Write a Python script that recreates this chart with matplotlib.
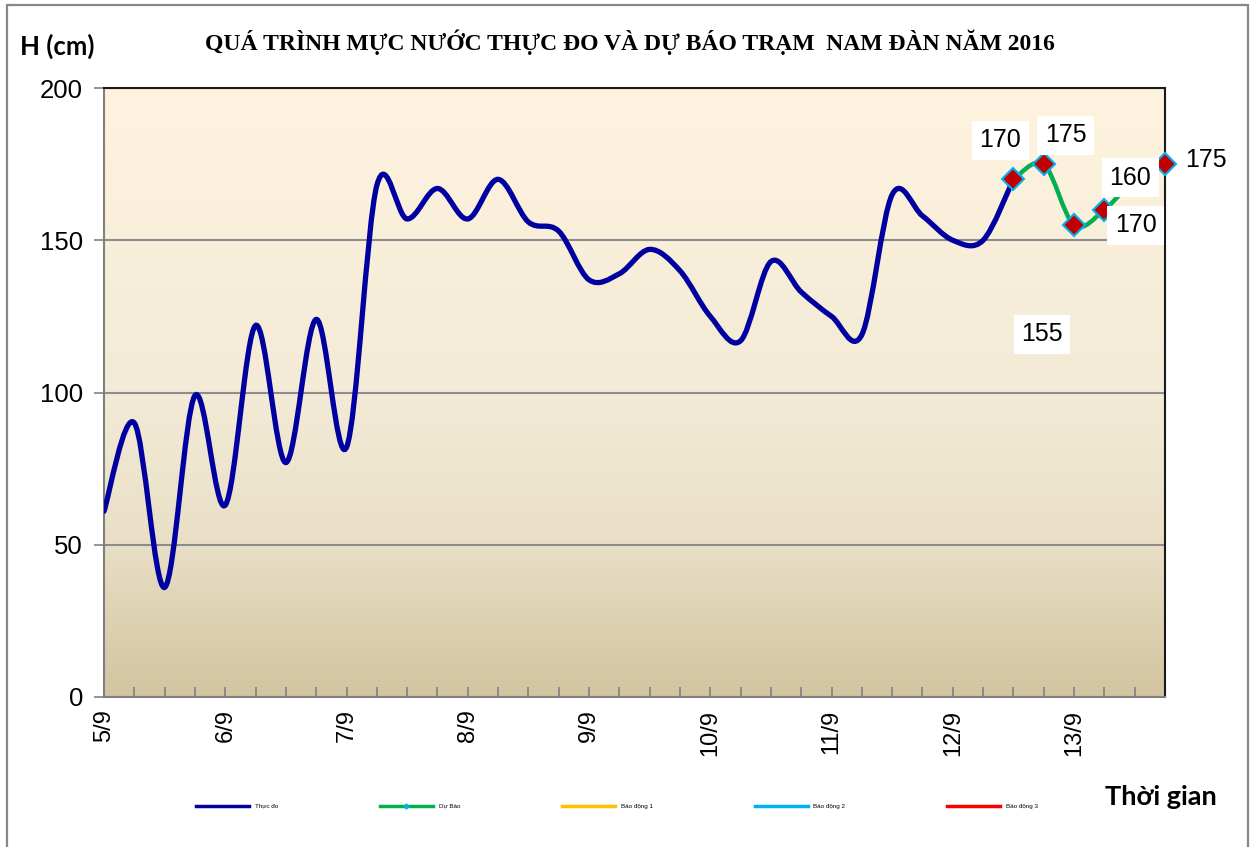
import matplotlib
matplotlib.use("Agg")
import matplotlib.pyplot as plt
import numpy as np
from matplotlib.path import Path
from matplotlib.patches import PathPatch, Rectangle
from matplotlib.lines import Line2D
from matplotlib.colors import LinearSegmentedColormap

# muc nuoc thuc do (6h mot lan, tu 5/9)
thuc_do = [61, 90, 36, 99, 63, 122, 77, 124, 82, 168, 157, 167, 157, 170,
           156, 153, 137, 139, 147, 140, 125, 117, 143, 133, 125, 119,
           165, 158, 150, 150, 170]
# du bao, bat dau tu diem cuoi cua thuc do
du_bao = [170, 175, 155, 160, 170, 175]
ngay = ['5/9', '6/9', '7/9', '8/9', '9/9', '10/9', '11/9', '12/9', '13/9']
ten_series = ['Thực đo', 'Dự Báo', 'Báo động 1', 'Báo động 2', 'Báo động 3']

n_diem = len(thuc_do) + len(du_bao) - 1
x_td = np.arange(len(thuc_do))
x_db = np.arange(len(thuc_do) - 1, n_diem)


def smooth_path(xs, ys):
    # duong cong bezier kieu excel (smoothed line)
    pts = np.column_stack([xs, ys]).astype(float)
    verts = [pts[0]]
    codes = [Path.MOVETO]
    for i in range(len(pts) - 1):
        p0 = pts[max(i - 1, 0)]
        p1 = pts[i]
        p2 = pts[i + 1]
        p3 = pts[min(i + 2, len(pts) - 1)]
        c1 = p1 + (p2 - p0) / 6.0
        c2 = p2 - (p3 - p1) / 6.0
        verts += [c1, c2, p2]
        codes += [Path.CURVE4] * 3
    return Path(verts, codes)


fig = plt.figure(figsize=(12.52, 8.47), dpi=100)
ax = fig.add_axes([104 / 1252, 1 - 697 / 847, 1061 / 1252, 609 / 847])

# nen gradient
cmap = LinearSegmentedColormap.from_list('nen', [(0.0, '#D2C4A0'), (0.25, '#E9DFC6'),
                                                 (0.5, '#F3EBD7'), (1.0, '#FEF3DF')])
grad = np.linspace(1, 0, 256).reshape(-1, 1)
ax.imshow(grad, cmap=cmap, aspect='auto', extent=[0, n_diem - 1, 0, 200], zorder=0)

ax.set_xlim(0, n_diem - 1)
ax.set_ylim(0, 200)
ax.set_yticks([0, 50, 100, 150, 200])
ax.grid(axis='y', color='#8C8C8C', lw=1.5, zorder=1)

ax.add_patch(PathPatch(smooth_path(x_td, thuc_do), fc='none', ec='#0000A0',
                       lw=3.8, zorder=3, capstyle='round'))
ax.add_patch(PathPatch(smooth_path(x_db, du_bao), fc='none', ec='#00B050',
                       lw=3.2, zorder=4, capstyle='round'))
ax.plot(x_db, du_bao, ls='none', marker='D', ms=11, mfc='#C00000', mec='#00B0F0',
        mew=1.5, zorder=5, clip_on=False)

# nhan so lieu (da keo lech nhu ban goc)
lech = [(-13, 39), (22, 29), (-32, -109), (26, 32), (1, -46), (41, 4)]
for xi, yi, (dx, dy) in zip(x_db, du_bao, lech):
    ax.annotate(str(yi), (xi, yi), xytext=(dx * 0.72, dy * 0.72), textcoords='offset points',
                ha='center', va='center', fontsize=18, family='Liberation Sans',
                bbox=dict(boxstyle='square,pad=0.3', fc='white', ec='none'),
                zorder=6, annotation_clip=False)

for s in ['left', 'bottom']:
    ax.spines[s].set_color('#808080')
    ax.spines[s].set_linewidth(1.5)
for s in ['top', 'right']:
    ax.spines[s].set_color('#1A1A1A')
    ax.spines[s].set_linewidth(1.5)

ax.set_xticks(np.arange(0, n_diem, 4))
ax.set_xticklabels(ngay, rotation=90, fontsize=17, family='Liberation Sans')
ax.set_xticks(np.arange(n_diem), minor=True)
ax.tick_params(axis='x', which='both', direction='in', length=7, color='#808080', width=1.2, pad=9)
ax.tick_params(axis='y', direction='out', length=7, color='#808080', width=1.2, pad=8)
for t in ax.get_yticklabels():
    t.set_fontsize(18.5)
    t.set_family('Liberation Sans')

fig.text(0.503, 1 - 42 / 847, 'QUÁ TRÌNH MỰC NƯỚC THỰC ĐO VÀ DỰ BÁO TRẠM  NAM ĐÀN NĂM 2016',
         ha='center', va='center', fontsize=17, fontweight='bold', family='Liberation Serif')
fig.text(20 / 1252, 1 - 46 / 847, 'H (cm)', ha='left', va='center', fontsize=18.5,
         fontweight='bold', family='Lato')
fig.text(1105 / 1252, 1 - 797 / 847, 'Thời gian', ha='left', va='center', fontsize=19.5,
         fontweight='bold', family='Lato')

mau = ['#0000A0', '#00B050', '#FFC000', '#00B0F0', '#FF0000']
handles = [Line2D([], [], color=c, lw=2.5) for c in mau]
handles[1] = Line2D([], [], color=mau[1], lw=2.5, marker='D', ms=2.5,
                    mfc='#00B0F0', mec='#00B0F0')
leg = fig.legend(handles, ten_series, loc='center', bbox_to_anchor=(617 / 1252, 1 - 806 / 847),
                 ncol=5, frameon=False, handlelength=8.5, handletextpad=0.9,
                 columnspacing=16.3, prop={'family': 'Liberation Sans', 'size': 4.5})

# khung ngoai
fig.patches.append(Rectangle((7 / 1252, -0.01), 1241 / 1252, 1 - 5 / 847 + 0.01,
                             transform=fig.transFigure, fill=False, ec='#888888', lw=1.6))

fig.savefig('out.png', dpi=100, facecolor='white')
